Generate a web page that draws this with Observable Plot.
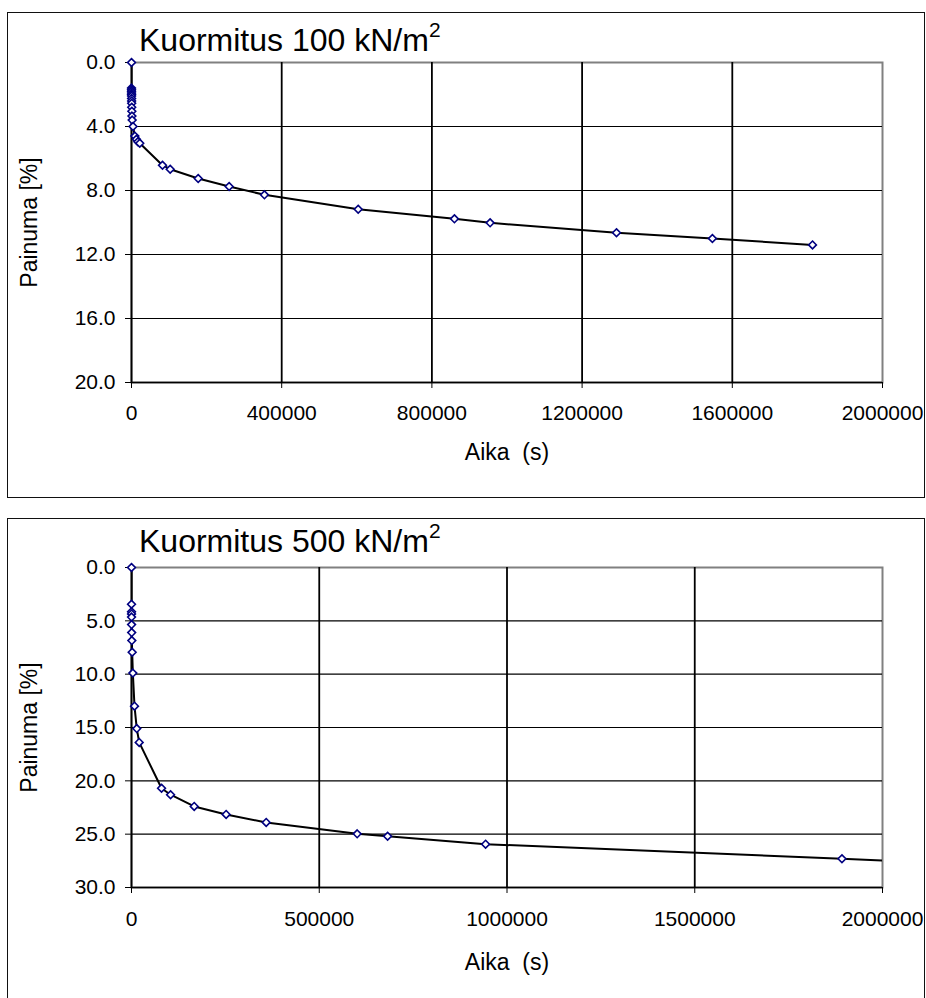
<!DOCTYPE html>
<html><head><meta charset="utf-8">
<script src="https://cdn.jsdelivr.net/npm/d3@7"></script>
<script src="https://cdn.jsdelivr.net/npm/@observablehq/plot@0.6"></script>
<style>
body{margin:0;background:#fff;font-family:"Liberation Sans",Arial,sans-serif;}
#wrap{position:relative;width:926px;height:998px;overflow:hidden;background:#fff;}
.box{position:absolute;left:7px;width:918px;box-sizing:border-box;border:1px solid #111;}
.title{position:absolute;left:139px;font-size:32px;line-height:32px;white-space:nowrap;color:#000;}
.title sup{font-size:21px;line-height:0;vertical-align:0;position:relative;top:-14px;}
.chart{position:absolute;left:0;}
</style></head>
<body>
<div id="wrap">
  <div class="box" style="top:12px;height:486px;"></div>
  <div class="box" style="top:518px;height:500px;"></div>
  <div class="chart" id="c1" style="top:0px;"></div>
  <div class="chart" id="c2" style="top:505px;"></div>
  <div class="title" style="top:24px;">Kuormitus 100 kN/m<sup>2</sup></div>
  <div class="title" style="top:525px;">Kuormitus 500 kN/m<sup>2</sup></div>
</div>
<script>
// Load 100 kN/m2: time (s) and settlement (%)
const time100 = [0, 10, 20, 30, 60, 120, 180, 240, 300, 480, 600, 900, 1200, 1800,
  4000, 9000, 13000, 17000, 22000, 82500, 103000, 177600, 260000, 354000, 603700,
  860000, 955000, 1291600, 1547000, 1813600];
const settle100 = [0, 1.6, 1.7, 1.8, 1.9, 2.0, 2.1, 2.25, 2.4, 2.55, 2.8, 3.05, 3.35, 3.6,
  4.0, 4.6, 4.8, 4.95, 5.05, 6.42, 6.67, 7.25, 7.75, 8.27, 9.17,
  9.77, 10.02, 10.64, 11.0, 11.4];

// Load 500 kN/m2
const time500 = [0, 10, 30, 60, 120, 240, 480, 900, 1800, 3600, 8000, 14000, 20500,
  80000, 104000, 167000, 252000, 358700, 601000, 682000, 943000, 1892000, 2020000];
const settle500 = [0, 3.45, 4.15, 4.35, 4.65, 5.35, 6.1, 6.85, 7.95, 9.9, 13.0, 15.1, 16.4,
  20.7, 21.3, 22.4, 23.15, 23.9, 24.97, 25.2, 25.94, 27.3, 27.5];

const xTicks100 = [0, 400000, 800000, 1200000, 1600000, 2000000];
const yTicks100 = [0, 4, 8, 12, 16, 20];
const xTicks500 = [0, 500000, 1000000, 1500000, 2000000];
const yTicks500 = [0, 5, 10, 15, 20, 25, 30];

const yLabel = "Painuma [%]";
const xLabel = "Aika\u00a0 (s)";

function makeChart(t, s, xTicks, yTicks, height, marginBottom, xPad, labelDy) {
  const data = t.map((d, i) => ({t: d, s: s[i]}));
  const yMax = yTicks[yTicks.length - 1];
  const xMax = xTicks[xTicks.length - 1];
  const inRange = data.filter(d => d.t <= xMax);
  return Plot.plot({
    width: 926, height, marginTop: 62, marginLeft: 131, marginRight: 44, marginBottom,
    style: {background: "transparent", fontFamily: "'Liberation Sans', Arial, sans-serif", overflow: "visible"},
    x: {domain: [0, xMax]},
    y: {domain: [0, yMax], reverse: true},
    marks: [
      Plot.frame({stroke: "#808080", strokeWidth: 2}),
      Plot.gridY(yTicks.slice(1, -1), {stroke: "#000", strokeOpacity: 1, strokeWidth: 1.2}),
      Plot.gridX(xTicks.slice(1, -1), {stroke: "#000", strokeOpacity: 1, strokeWidth: 1.8}),
      Plot.ruleX([0], {stroke: "#000", strokeWidth: 1.8}),
      Plot.ruleY([yMax], {stroke: "#000", strokeWidth: 1.6}),
      Plot.axisY(yTicks, {tickSize: 6, tickPadding: 10, tickFormat: d3.format(".1f"), fontSize: 21, label: null, stroke: "#000"}),
      Plot.axisX(xTicks, {tickSize: 6, tickPadding: xPad, tickFormat: d => String(d), fontSize: 21, label: null, stroke: "#000"}),
      Plot.text([yLabel], {text: d => d, frameAnchor: "left", rotate: -90, dx: -102, textAnchor: "middle", lineAnchor: "middle", fontSize: 23, fill: "#000"}),
      Plot.text([xLabel], {text: d => d, frameAnchor: "bottom", dy: labelDy, textAnchor: "middle", lineAnchor: "middle", fontSize: 23, fill: "#000"}),
      Plot.line(data, {x: "t", y: "s", stroke: "#000", strokeWidth: 2, clip: "frame"}),
      Plot.dot(inRange, {x: "t", y: "s", symbol: "diamond2", r: 3.5, stroke: "#000080", fill: "#fff", strokeWidth: 1.6})
    ]
  });
}

document.getElementById("c1").append(
  makeChart(time100, settle100, xTicks100, yTicks100, 497, 115, 17, 70));
document.getElementById("c2").append(
  makeChart(time500, settle500, xTicks500, yTicks500, 493, 111, 18, 75));
</script>
</body></html>
